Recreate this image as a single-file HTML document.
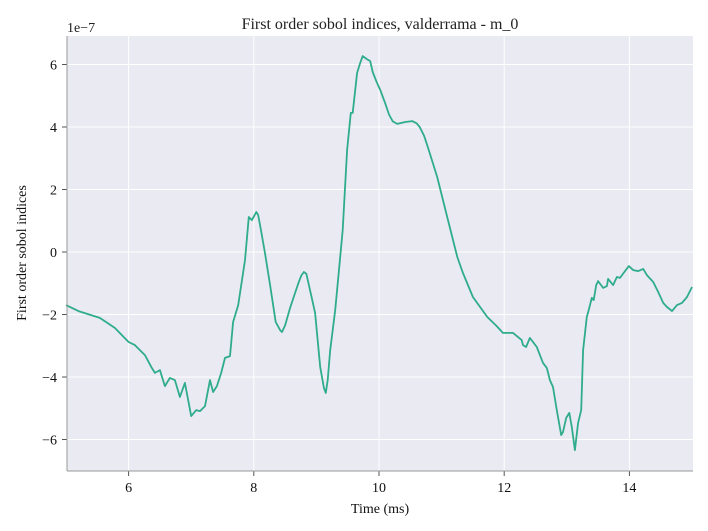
<!DOCTYPE html>
<html><head><meta charset="utf-8">
<style>
body{margin:0;background:#fff;}
svg{display:block;font-family:"Liberation Serif",serif;}
</style></head>
<body>
<svg id="chart" width="708" height="531">
<rect x="67" y="36" width="626" height="435" fill="#eaeaf2"/>
<g id="grid"></g>
<g id="ticks"></g>
<path id="line" fill="none" stroke="#2eac8c" stroke-width="1.8" stroke-linejoin="round"/>
<line x1="67" y1="36" x2="67" y2="471" stroke="#999" stroke-width="1"/>
<line x1="67" y1="471" x2="693" y2="471" stroke="#999" stroke-width="1"/>
<text x="380" y="29" text-anchor="middle" font-size="16" fill="#222">First order sobol indices, valderrama - m_0</text>
<text x="380" y="513" text-anchor="middle" font-size="14" fill="#111">Time (ms)</text>
<text x="26" y="253" text-anchor="middle" font-size="14" fill="#111" transform="rotate(-90 26 253)">First order sobol indices</text>
<text x="67" y="32" font-size="14" fill="#222">1e−7</text>
</svg>
<script>
const times=[5.0,5.2,5.54,5.78,6.0,6.1,6.26,6.37,6.42,6.5,6.58,6.66,6.74,6.82,6.9,7.0,7.08,7.14,7.22,7.3,7.35,7.41,7.48,7.54,7.62,7.67,7.75,7.86,7.92,7.97,8.04,8.07,8.12,8.18,8.26,8.35,8.42,8.45,8.5,8.58,8.66,8.72,8.76,8.8,8.84,8.88,8.93,8.98,9.06,9.12,9.15,9.18,9.22,9.3,9.38,9.42,9.49,9.55,9.58,9.65,9.7,9.74,9.8,9.86,9.9,9.96,10.02,10.1,10.16,10.22,10.29,10.42,10.53,10.6,10.65,10.72,10.78,10.93,11.09,11.25,11.34,11.5,11.73,11.88,11.98,12.14,12.28,12.3,12.35,12.41,12.52,12.57,12.62,12.68,12.73,12.78,12.84,12.91,12.94,12.99,13.04,13.08,13.13,13.18,13.23,13.26,13.32,13.35,13.4,13.43,13.47,13.5,13.58,13.64,13.66,13.74,13.8,13.85,13.93,13.99,14.06,14.14,14.22,14.28,14.38,14.46,14.54,14.6,14.68,14.76,14.84,14.92,15.0];
const values=[-1.70,-1.89,-2.11,-2.43,-2.88,-2.98,-3.30,-3.71,-3.87,-3.78,-4.29,-4.03,-4.10,-4.64,-4.19,-5.25,-5.06,-5.09,-4.93,-4.10,-4.48,-4.29,-3.87,-3.39,-3.33,-2.24,-1.70,-0.26,1.12,1.02,1.28,1.18,0.64,-0.06,-1.06,-2.24,-2.50,-2.56,-2.35,-1.79,-1.31,-0.95,-0.75,-0.64,-0.70,-1.06,-1.50,-1.95,-3.68,-4.35,-4.51,-4.1,-3.14,-1.86,-0.16,0.70,3.26,4.45,4.45,5.73,6.05,6.27,6.18,6.11,5.76,5.45,5.18,4.75,4.40,4.18,4.10,4.16,4.19,4.12,4.0,3.72,3.36,2.40,1.12,-0.16,-0.67,-1.44,-2.08,-2.37,-2.59,-2.59,-2.82,-2.98,-3.04,-2.75,-3.04,-3.30,-3.55,-3.71,-4.10,-4.32,-5.06,-5.86,-5.76,-5.31,-5.15,-5.6,-6.34,-5.47,-5.06,-3.14,-2.08,-1.86,-1.47,-1.54,-1.06,-0.93,-1.15,-1.09,-0.86,-1.06,-0.80,-0.83,-0.61,-0.45,-0.58,-0.61,-0.54,-0.74,-0.96,-1.28,-1.63,-1.76,-1.89,-1.70,-1.63,-1.44,-1.12];
const xTicks=[6,8,10,12,14];
const yTicks=[-6,-4,-2,0,2,4,6];
const X0=66,X1=692,XMIN=5,XMAX=15;
const YZERO=252,YPER=31.25;
function sx(t){return X0+(t-XMIN)/(XMAX-XMIN)*(X1-X0);}
function sy(v){return YZERO-v*YPER;}
const NS="http://www.w3.org/2000/svg";
const grid=document.getElementById('grid'),ticks=document.getElementById('ticks');
function mk(tag,attrs,parent){const e=document.createElementNS(NS,tag);for(const k in attrs)e.setAttribute(k,attrs[k]);parent.appendChild(e);return e;}
xTicks.forEach(t=>{
  const x=sx(t);
  const g=mk('line',{x1:x,y1:36,x2:x,y2:471,stroke:'#fff','stroke-width':1},grid);
  
  
  const tk=mk('line',{x1:x,y1:471,x2:x,y2:476,stroke:'#555'},ticks);
  
  
  const lb=mk('text',{x:x,y:492,'text-anchor':'middle','font-size':14,fill:'#111'},ticks);
  lb.textContent=String(t);
  
  
});
yTicks.forEach(v=>{
  const y=sy(v);
  const g=mk('line',{x1:67,y1:y,x2:693,y2:y,stroke:'#fff','stroke-width':1},grid);
  
  
  const tk=mk('line',{x1:62,y1:y,x2:67,y2:y,stroke:'#555'},ticks);
  
  
  const lb=mk('text',{x:57,y:y+5,'text-anchor':'end','font-size':14,fill:'#111'},ticks);
  lb.textContent=(v<0?'−':'')+Math.abs(v);
  
  
});
let d='';
times.forEach((t,i)=>{d+=(i?'L':'M')+sx(t).toFixed(1)+','+sy(values[i]).toFixed(1);});
document.getElementById('line').setAttribute('d',d);
</script>
</body></html>
